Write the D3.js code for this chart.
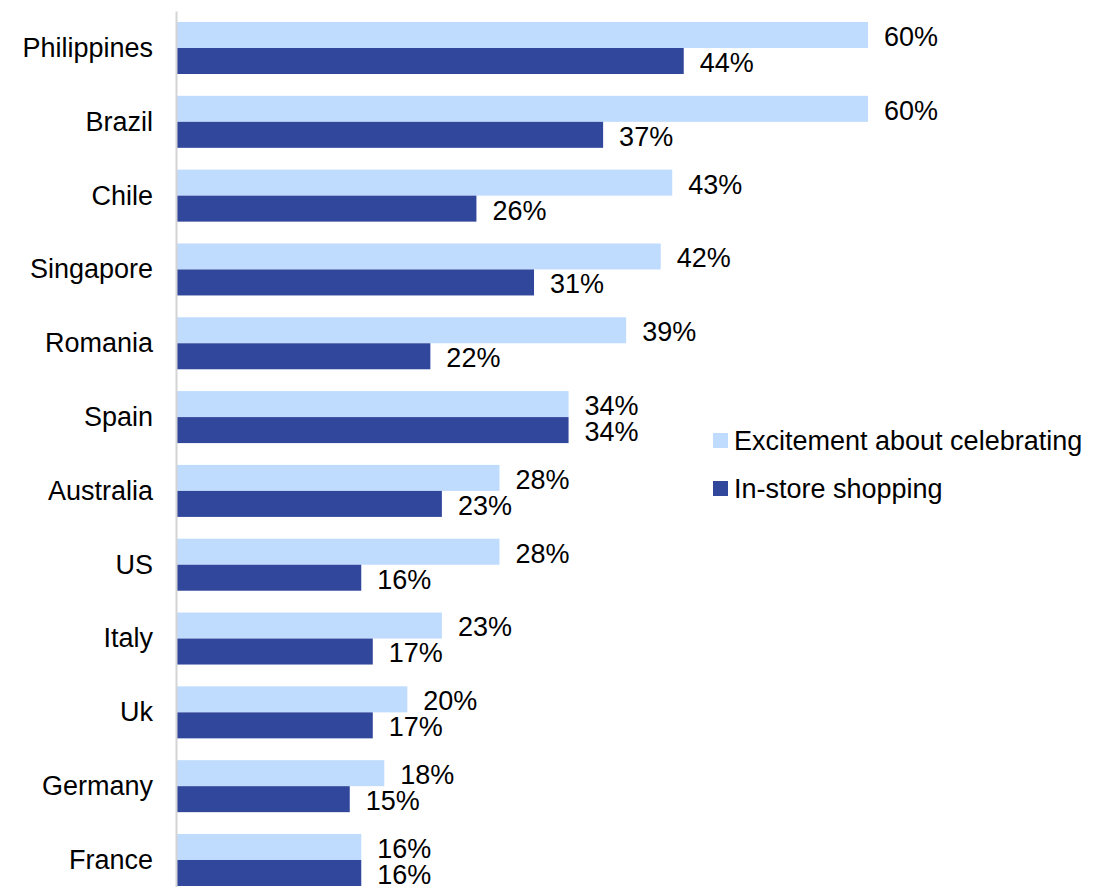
<!DOCTYPE html>
<html>
<head>
<meta charset="utf-8">
<script src="https://cdn.jsdelivr.net/npm/d3@7/dist/d3.min.js"></script>
<style>
  html, body { margin: 0; padding: 0; background: #fff; }
  svg { display: block; font-family: "Liberation Sans", Arial, sans-serif; }
</style>
</head>
<body>
<svg id="chart" width="1099" height="887"></svg>
<script>
// Countries, top to bottom
const countries = ["Philippines", "Brazil", "Chile", "Singapore", "Romania", "Spain",
                   "Australia", "US", "Italy", "Uk", "Germany", "France"];
// Share of respondents (%)
const excitement = [60, 60, 43, 42, 39, 34, 28, 28, 23, 20, 18, 16];
const inStore    = [44, 37, 26, 31, 22, 34, 23, 16, 17, 17, 15, 16];
const seriesNames = ["Excitement about celebrating", "In-store shopping"];
const seriesColors = ["#BFDBFE", "#31479C"];

const svg = d3.select("#chart");
const fontSize = 27;

const x = d3.scaleLinear().domain([0, 60]).range([177, 868]);
const y = d3.scaleBand().domain(countries).range([11.1, 896.9])
  .paddingInner(0.2956).paddingOuter(0.1478);
const sub = d3.scaleBand().domain(seriesNames).range([0, y.bandwidth()]).padding(0);

const rows = countries.map((c, i) => ({
  country: c,
  values: [
    { series: seriesNames[0], value: excitement[i], color: seriesColors[0] },
    { series: seriesNames[1], value: inStore[i], color: seriesColors[1] }
  ]
}));

const groups = svg.append("g").selectAll("g").data(rows).join("g")
  .attr("transform", d => `translate(0,${y(d.country)})`);

groups.selectAll("rect").data(d => d.values).join("rect")
  .attr("x", x(0))
  .attr("y", d => sub(d.series))
  .attr("width", d => x(d.value) - x(0))
  .attr("height", sub.bandwidth())
  .attr("fill", d => d.color);

groups.selectAll("text.val").data(d => d.values).join("text")
  .attr("class", "val")
  .attr("x", d => x(d.value) + 16)
  .attr("y", d => sub(d.series) + sub.bandwidth() / 2 + 1.5)
  .attr("dy", "0.35em")
  .attr("font-size", fontSize)
  .attr("fill", "#000")
  .text(d => d.value + "%");

// Category axis
const yAxis = svg.append("g")
  .attr("transform", `translate(${x(0) - 1},0)`)
  .call(d3.axisLeft(y).tickSize(0).tickPadding(23));
yAxis.select(".domain").attr("stroke", "#d4d4d4").attr("stroke-width", 2);
yAxis.selectAll("text")
  .attr("font-size", fontSize)
  .attr("font-family", "'Liberation Sans', Arial, sans-serif")
  .attr("fill", "#000")
  .attr("dy", "0.33em");

// Legend
const legend = svg.append("g").attr("transform", "translate(713,433)");
const items = legend.selectAll("g").data(seriesNames).join("g")
  .attr("transform", (d, i) => `translate(0,${i * 48})`);
items.append("rect").attr("width", 15).attr("height", 15)
  .attr("fill", (d, i) => seriesColors[i]);
items.append("text")
  .attr("x", 21).attr("y", 8).attr("dy", "0.35em")
  .attr("font-size", fontSize)
  .attr("fill", "#000")
  .text(d => d);
</script>
</body>
</html>
